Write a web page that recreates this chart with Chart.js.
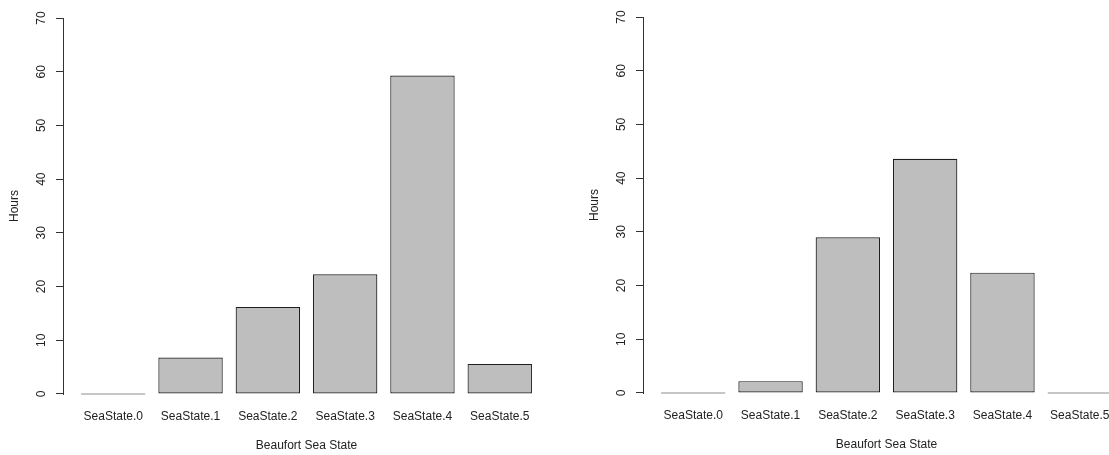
<!DOCTYPE html>
<html><head><meta charset="utf-8">
<script src="https://cdn.jsdelivr.net/npm/chart.js@4"></script>
<style>
html,body{margin:0;padding:0;width:1109px;height:455px;overflow:hidden;background:#fff;}
canvas{position:absolute;top:0;}
#c1{left:0;}
#c2{left:580px;top:-1px;}
</style></head><body>
<canvas id="c1" width="580" height="455"></canvas>
<canvas id="c2" width="580" height="455"></canvas>
<script>
const categories = ['SeaState.0', 'SeaState.1', 'SeaState.2', 'SeaState.3', 'SeaState.4', 'SeaState.5'];
const hoursLeft = [0, 6.8, 16.2, 22.3, 59.3, 5.6];
const hoursRight = [0, 2.2, 29.0, 43.6, 22.4, 0];
const yTicks = [0, 10, 20, 30, 40, 50, 60, 70];
const yLabel = 'Hours';
const xLabel = 'Beaufort Sea State';

Chart.defaults.font.family = '"Liberation Sans", Arial, sans-serif';
Chart.defaults.font.size = 12;
Chart.defaults.color = '#222';

const axisLine = {
  id: 'axisLine',
  afterDraw(chart) {
    const ys = chart.scales.y;
    const ctx = chart.ctx;
    const x = Math.round(ys.right) + 0.5;
    const y0 = Math.round(ys.getPixelForValue(yTicks[0])) + 0.5;
    const y1 = Math.round(ys.getPixelForValue(yTicks[yTicks.length - 1])) + 0.5;
    ctx.save();
    ctx.strokeStyle = '#333';
    ctx.lineWidth = 1;
    ctx.beginPath();
    ctx.moveTo(x, y0 + 0.5);
    ctx.lineTo(x, y1 - 0.5);
    ctx.stroke();
    ctx.restore();
  }
};

function makeChart(id, values) {
  // R barplot positions: width 1, space 0.2
  const centers = categories.map((c, i) => 0.7 + 1.2 * i);
  return new Chart(document.getElementById(id), {
    type: 'bar',
    data: {
      datasets: [{
        data: values.map((v, i) => ({ x: centers[i], y: v })),
        backgroundColor: '#BEBEBE',
        borderColor: '#1e1e1e',
        borderWidth: 1.2,
        borderSkipped: false,
        minBarLength: 1,
        barPercentage: 1 / 1.2,
        categoryPercentage: 1
      }]
    },
    options: {
      responsive: false,
      animation: false,
      devicePixelRatio: 1,
      layout: { padding: { top: 3, right: 30, bottom: 0, left: 0 } },
      plugins: { legend: { display: false }, tooltip: { enabled: false } },
      scales: {
        x: {
          type: 'linear', min: -0.08, max: 7.48, offset: false,
          afterBuildTicks: s => { s.ticks = centers.map(v => ({ value: v })); },
          afterFit: s => { s.height = 46; s.paddingLeft = 0; s.paddingRight = 0; },
          border: { display: false },
          grid: { display: false, drawTicks: false, offset: false },
          ticks: { autoSkip: false, maxRotation: 0, minRotation: 0, padding: 0,
                   callback: (v, i) => categories[i] },
          title: { display: true, text: xLabel, padding: { top: 0, bottom: 2 } }
        },
        y: {
          type: 'linear', min: -2.8, max: 72.8,
          afterBuildTicks: s => { s.ticks = yTicks.map(v => ({ value: v })); },
          afterFit: s => { s.width = 63; s.paddingTop = 0; s.paddingBottom = 0; },
          border: { display: false },
          grid: { drawOnChartArea: false, drawTicks: true, tickLength: 7, color: '#333', lineWidth: 1 },
          ticks: { minRotation: 90, maxRotation: 90, crossAlign: 'center', padding: 8 },
          title: { display: true, text: yLabel, padding: { top: 7, bottom: 0 } }
        }
      }
    },
    plugins: [axisLine]
  });
}

makeChart('c1', hoursLeft);
makeChart('c2', hoursRight);
</script>
</body></html>
